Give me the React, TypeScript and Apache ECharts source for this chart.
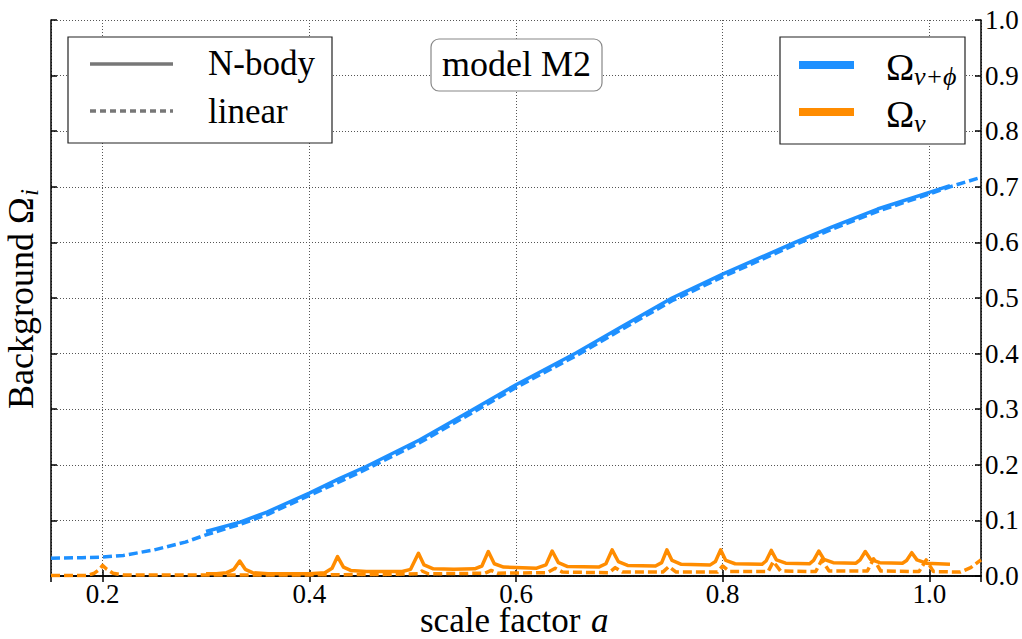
import React, { useEffect, useRef } from "react";
import * as echarts from "echarts";

// ---------- data ----------
const xTickMin = 0.15;
const xTickMax = 1.05;
const yTickMin = 0;
const yTickMax = 1;
const yTickStep = 0.1;

// blue: Omega_{nu+phi}
const aBlueNbody = [0.30, 0.333, 0.359, 0.40, 0.429, 0.455, 0.507, 0.558, 0.60, 0.658, 0.70, 0.751, 0.80, 0.87, 0.906, 0.95, 1.00, 1.02];
const omBlueNbody = [0.080, 0.097, 0.115, 0.149, 0.175, 0.197, 0.245, 0.299, 0.344, 0.401, 0.446, 0.500, 0.543, 0.600, 0.628, 0.660, 0.690, 0.702];

const aBlueLinear = [0.15, 0.18, 0.20, 0.22, 0.25, 0.28, 0.30, 0.333, 0.36, 0.40, 0.43, 0.455, 0.507, 0.558, 0.60, 0.658, 0.70, 0.751, 0.80, 0.87, 0.906, 0.95, 1.00, 1.02, 1.05];
const omBlueLinear = [0.032, 0.033, 0.034, 0.037, 0.047, 0.061, 0.074, 0.093, 0.111, 0.145, 0.170, 0.192, 0.240, 0.294, 0.339, 0.396, 0.441, 0.495, 0.538, 0.596, 0.624, 0.656, 0.687, 0.700, 0.717];

// orange: Omega_nu
const aOrangeNbody = [0.30, 0.31, 0.32, 0.327, 0.3326, 0.338, 0.345, 0.36, 0.40, 0.415, 0.422, 0.4273, 0.433, 0.44, 0.455, 0.49, 0.498, 0.5056, 0.511, 0.52, 0.54, 0.56, 0.567, 0.5732, 0.579, 0.588, 0.62, 0.629, 0.635, 0.641, 0.65, 0.68, 0.687, 0.693, 0.699, 0.708, 0.735, 0.741, 0.746, 0.751, 0.76, 0.788, 0.793, 0.798, 0.803, 0.812, 0.838, 0.842, 0.847, 0.852, 0.861, 0.884, 0.888, 0.893, 0.898, 0.907, 0.929, 0.933, 0.938, 0.943, 0.952, 0.974, 0.978, 0.983, 0.988, 0.997, 1.02];
const omOrangeNbody = [0.004, 0.004, 0.006, 0.012, 0.027, 0.012, 0.006, 0.004, 0.004, 0.006, 0.014, 0.035, 0.016, 0.010, 0.008, 0.008, 0.012, 0.041, 0.020, 0.013, 0.012, 0.013, 0.018, 0.044, 0.022, 0.016, 0.014, 0.020, 0.045, 0.024, 0.017, 0.016, 0.022, 0.047, 0.026, 0.019, 0.018, 0.024, 0.047, 0.028, 0.021, 0.020, 0.026, 0.047, 0.028, 0.022, 0.021, 0.027, 0.046, 0.029, 0.023, 0.022, 0.028, 0.045, 0.030, 0.024, 0.023, 0.029, 0.044, 0.030, 0.024, 0.023, 0.028, 0.042, 0.029, 0.023, 0.021];

const aOrangeLinear = [0.15, 0.185, 0.192, 0.197, 0.200, 0.204, 0.21, 0.22, 0.30, 0.40, 0.48, 0.505, 0.509, 0.515, 0.57, 0.576, 0.582, 0.63, 0.638, 0.645, 0.69, 0.696, 0.703, 0.742, 0.748, 0.755, 0.795, 0.80, 0.807, 0.844, 0.849, 0.856, 0.89, 0.896, 0.903, 0.94, 0.946, 0.953, 0.99, 0.997, 1.004, 1.03, 1.04, 1.05];
const omOrangeLinear = [0.001, 0.001, 0.005, 0.012, 0.019, 0.012, 0.005, 0.002, 0.002, 0.002, 0.003, 0.004, 0.009, 0.004, 0.005, 0.010, 0.005, 0.006, 0.014, 0.007, 0.006, 0.015, 0.007, 0.007, 0.017, 0.007, 0.007, 0.018, 0.008, 0.008, 0.026, 0.009, 0.008, 0.029, 0.009, 0.009, 0.031, 0.009, 0.008, 0.029, 0.008, 0.007, 0.015, 0.029];

const legendStyles = ["N-body", "linear"];
const modelLabel = "model M2";

const BLUE = "#1E90FF";
const ORANGE = "#FF8C00";
const GREY = "#777777";
const FONT = "Liberation Serif";

const pairs = (a: number[], v: number[]) => a.map((x, i) => [x, v[i]]);

export default function App() {
  const ref = useRef<HTMLDivElement>(null);

  useEffect(() => {
    if (!ref.current) return;
    const chart = echarts.init(ref.current, undefined, { renderer: "svg" });

    const axisLine = { show: true, lineStyle: { color: "#000", width: 1.5 } };
    const tick = { show: true, inside: true, length: 6, lineStyle: { color: "#000", width: 1.5 } };
    const grid = { show: true, lineStyle: { color: "#555", width: 1, type: [1, 2] as any } };
    const tickLabel = {
      show: true,
      color: "#000",
      fontFamily: FONT,
      fontSize: 27,
      lineHeight: 24,
      formatter: (v: number) => v.toFixed(1),
    };

    const txt = (text: string, x: number, y: number, size: number, extra: any = {}) => ({
      type: "text",
      z: 100,
      style: {
        text,
        x,
        y,
        fill: "#000",
        fontFamily: FONT,
        fontSize: size,
        align: "left",
        textAlign: "left",
        verticalAlign: "middle",
        textVerticalAlign: "middle",
        ...extra,
      },
    });

    const lineSeries = (name: string, a: number[], v: number[], color: string, dashed: boolean, z: number) => ({
      name,
      type: "line",
      xAxisIndex: 0,
      yAxisIndex: 0,
      data: pairs(a, v),
      showSymbol: false,
      symbol: "none",
      z,
      lineStyle: {
        color,
        width: 3.5,
        type: dashed ? [9, 4] : "solid",
        join: "round",
        cap: "butt",
      },
    });

    const option: any = {
      animation: false,
      backgroundColor: "#fff",
      grid: { left: 51, right: 41, top: 20, bottom: 63, containLabel: false, outerBoundsMode: "none" },
      xAxis: [
        {
          type: "value",
          position: "bottom",
          min: xTickMin,
          max: xTickMax,
          splitNumber: 5,
          axisLine,
          axisTick: tick,
          axisLabel: { ...tickLabel, margin: 6, showMinLabel: false, showMaxLabel: false },
          splitLine: grid,
        },
        {
          type: "value",
          position: "top",
          min: xTickMin,
          max: xTickMax,
          splitNumber: 5,
          axisLine,
          axisTick: tick,
          axisLabel: { show: false },
          splitLine: { show: false },
        },
      ],
      yAxis: [
        {
          type: "value",
          position: "right",
          min: yTickMin,
          max: yTickMax,
          interval: yTickStep,
          axisLine,
          axisTick: tick,
          axisLabel: { ...tickLabel, margin: 4 },
          splitLine: grid,
        },
        {
          type: "value",
          position: "left",
          min: yTickMin,
          max: yTickMax,
          interval: yTickStep,
          axisLine,
          axisTick: tick,
          axisLabel: { show: false },
          splitLine: { show: false },
        },
      ],
      series: [
        lineSeries("Omega_nu+phi linear", aBlueLinear, omBlueLinear, BLUE, true, 3),
        lineSeries("Omega_nu+phi N-body", aBlueNbody, omBlueNbody, BLUE, false, 4),
        lineSeries("Omega_nu linear", aOrangeLinear, omOrangeLinear, ORANGE, true, 3),
        lineSeries("Omega_nu N-body", aOrangeNbody, omOrangeNbody, ORANGE, false, 4),
      ],
      graphic: [
        // left legend (line styles)
        {
          type: "rect",
          z: 99,
          shape: { x: 68, y: 37, width: 264, height: 106 },
          style: { fill: "#fff", stroke: "#222", lineWidth: 1.2 },
        },
        {
          type: "line",
          z: 100,
          shape: { x1: 90, y1: 64, x2: 173, y2: 64 },
          style: { stroke: GREY, lineWidth: 3.5 },
        },
        {
          type: "line",
          z: 100,
          shape: { x1: 90, y1: 111, x2: 173, y2: 111 },
          style: { stroke: GREY, lineWidth: 3.5, lineDash: [6, 4] },
        },
        txt(legendStyles[0], 208, 63, 35),
        txt(legendStyles[1], 208, 111, 35),

        // model box
        {
          type: "rect",
          z: 99,
          shape: { x: 431, y: 39, width: 171, height: 52, r: 8 },
          style: { fill: "#fff", stroke: "#888", lineWidth: 1.2 },
        },
        txt(modelLabel, 516.5, 64, 36, { align: "center", textAlign: "center" }),

        // right legend (colours)
        {
          type: "rect",
          z: 99,
          shape: { x: 780, y: 37, width: 185, height: 107 },
          style: { fill: "#fff", stroke: "#222", lineWidth: 1.2 },
        },
        {
          type: "line",
          z: 100,
          shape: { x1: 799, y1: 65, x2: 854, y2: 65 },
          style: { stroke: BLUE, lineWidth: 8 },
        },
        {
          type: "line",
          z: 100,
          shape: { x1: 799, y1: 112, x2: 854, y2: 112 },
          style: { stroke: ORANGE, lineWidth: 8 },
        },
        txt("Ω", 886, 67, 38),
        txt("ν+ϕ", 914, 76, 26, { fontStyle: "italic" }),
        txt("Ω", 886, 114, 38),
        txt("ν", 914, 123, 26, { fontStyle: "italic" }),

        // x axis label
        txt("scale factor", 420, 620, 35, { lineHeight: 30 }),
        txt("a", 591, 620, 35, { fontStyle: "italic", lineHeight: 30 }),

        // y axis label (rotated)
        {
          type: "group",
          x: 21,
          y: 298,
          rotation: Math.PI / 2,
          z: 100,
          children: [
            {
              type: "text",
              z: 100,
              style: {
                text: "Background Ω",
                x: -111,
                y: 0,
                align: "left",
                textAlign: "left",
                verticalAlign: "middle",
                textVerticalAlign: "middle",
                fill: "#000",
                fontFamily: FONT,
                fontSize: 36,
              },
            },
            {
              type: "text",
              z: 100,
              style: {
                text: "i",
                x: 102,
                y: 8,
                align: "left",
                textAlign: "left",
                verticalAlign: "middle",
                textVerticalAlign: "middle",
                fill: "#000",
                fontFamily: FONT,
                fontSize: 25,
                fontStyle: "italic",
              },
            },
          ],
        },
      ],
    };

    chart.setOption(option);
    return () => chart.dispose();
  }, []);

  return (
    <div
      ref={ref}
      style={{ position: "absolute", left: 0, top: 0, width: 1022, height: 639, background: "#fff" }}
    />
  );
}
